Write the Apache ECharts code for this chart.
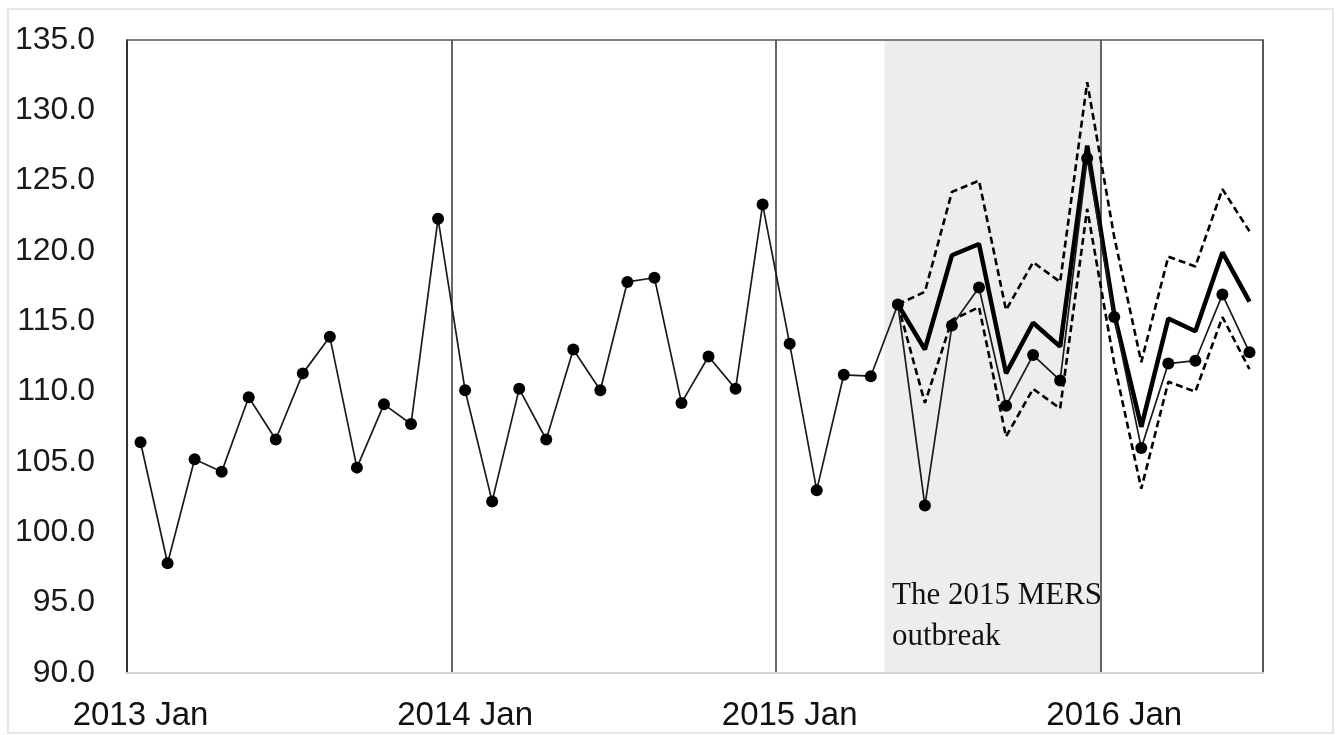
<!DOCTYPE html>
<html>
<head>
<meta charset="utf-8">
<script src="https://cdn.jsdelivr.net/npm/echarts@6/dist/echarts.min.js"></script>
<style>
  html, body { margin: 0; padding: 0; background: #ffffff; }
  #chart { width: 1340px; height: 735px; }
</style>
</head>
<body>
<div id="chart"></div>
<script>
// ---- data ----
const years = [2013, 2014, 2015, 2016];
const monthNames = ['Jan','Feb','Mar','Apr','May','Jun','Jul','Aug','Sep','Oct','Nov','Dec'];
const lastMonthCount2016 = 6;

const observed2013 = [106.4, 97.8, 105.2, 104.3, 109.6, 106.6, 111.3, 113.9, 104.6, 109.1, 107.7, 122.3];
const observed2014 = [110.1, 102.2, 110.2, 106.6, 113.0, 110.1, 117.8, 118.1, 109.2, 112.5, 110.2, 123.3];
const observed2015 = [113.4, 103.0, 111.2, 111.1, 116.2, 101.9, 114.7, 117.4, 109.0, 112.6, 110.8, 126.6];
const observed2016 = [115.3, 106.0, 112.0, 112.2, 116.9, 112.8];

// forecast from 2015 May to 2016 Jun
const forecastStart = '2015 May';
const forecast = [116.2, 113.0, 119.7, 120.5, 111.3, 114.9, 113.2, 127.5, 115.5, 107.5, 115.2, 114.3, 119.9, 116.4];
const upperBound = [116.2, 117.1, 124.2, 125.0, 115.8, 119.2, 117.8, 132.0, 121.0, 112.1, 119.6, 118.9, 124.4, 121.4];
const lowerBound = [116.2, 109.2, 115.1, 116.0, 106.8, 110.2, 108.8, 123.0, 112.0, 103.1, 110.7, 110.0, 115.3, 111.6];

// MERS outbreak period
const mersStart = '2015 May';
const mersEnd = '2015 Dec';
const mersLabel = 'The 2015 MERS\noutbreak';

const yMin = 90, yMax = 135, yStep = 5;

// ---- build ----
const categories = [];
years.forEach(y => {
  const n = (y === 2016) ? lastMonthCount2016 : 12;
  for (let i = 0; i < n; i++) categories.push(y + ' ' + monthNames[i]);
});
const observed = observed2013.concat(observed2014, observed2015, observed2016);
const fIdx = categories.indexOf(forecastStart);
function pad(arr) {
  const out = categories.map(() => null);
  arr.forEach((v, i) => { out[fIdx + i] = v; });
  return out;
}
const mS = categories.indexOf(mersStart), mE = categories.indexOf(mersEnd);

const chart = echarts.init(document.getElementById('chart'), null, { renderer: 'canvas' });
const sans = 'Liberation Sans, Arial, sans-serif';

chart.setOption({
  animation: false,
  backgroundColor: '#ffffff',
  grid: { left: 127, right: 77, top: 40, bottom: 62 },
  xAxis: [{
    type: 'category',
    data: categories,
    boundaryGap: true,
    axisLine: { show: true, lineStyle: { color: '#d4d4d4', width: 2 } },
    axisTick: { show: false },
    axisLabel: {
      interval: 11,
      margin: 26,
      fontSize: 33,
      fontFamily: sans,
      color: '#111'
    },
    splitLine: { show: true, interval: 11, lineStyle: { color: '#333', width: 1.5 } }
  }, {
    type: 'category',
    data: categories,
    position: 'top',
    axisLine: { show: true, lineStyle: { color: '#555', width: 1.5 } },
    axisTick: { show: false },
    axisLabel: { show: false },
    splitLine: { show: false }
  }],
  yAxis: [{
    type: 'value',
    min: yMin, max: yMax, interval: yStep,
    axisLine: { show: true, lineStyle: { color: '#222', width: 1.5 } },
    axisTick: { show: false },
    splitLine: { show: false },
    axisLabel: {
      margin: 32,
      fontSize: 32,
      fontFamily: sans,
      color: '#1a1a1a',
      formatter: v => v.toFixed(1)
    }
  }, {
    type: 'value',
    position: 'right',
    min: yMin, max: yMax, interval: yStep,
    axisLine: { show: true, lineStyle: { color: '#555', width: 1.5 } },
    axisTick: { show: false },
    splitLine: { show: false },
    axisLabel: { show: false }
  }],
  series: [
    {
      name: 'MERS',
      type: 'custom',
      silent: true,
      z: -1,
      data: [[mS, mE, yMin, yMax]],
      encode: { x: [0, 1], y: [2, 3] },
      renderItem: function (params, api) {
        const w = api.size([1, 0])[0];
        const pTop = api.coord([api.value(0), api.value(3)]);
        const pBot = api.coord([api.value(1), api.value(2)]);
        return {
          type: 'rect',
          shape: {
            x: pTop[0] - w / 2,
            y: pTop[1],
            width: pBot[0] - pTop[0] + w,
            height: pBot[1] - pTop[1]
          },
          style: { fill: '#ededed' }
        };
      }
    },
    {
      name: 'Upper',
      type: 'line',
      data: pad(upperBound),
      symbol: 'none',
      lineStyle: { color: '#000', width: 2.6, type: [7, 4] },
      z: 3
    },
    {
      name: 'Lower',
      type: 'line',
      data: pad(lowerBound),
      symbol: 'none',
      lineStyle: { color: '#000', width: 2.6, type: [7, 4] },
      z: 3
    },
    {
      name: 'Forecast',
      type: 'line',
      data: pad(forecast),
      symbol: 'none',
      lineStyle: { color: '#000', width: 4.5 },
      z: 4
    },
    {
      name: 'Observed',
      type: 'line',
      data: observed,
      symbol: 'circle',
      symbolSize: 12,
      showAllSymbol: true,
      lineStyle: { color: '#1a1a1a', width: 1.7 },
      itemStyle: { color: '#000' },
      z: 5
    }
  ],
  graphic: [
    {
      type: 'rect',
      silent: true,
      shape: { x: 8, y: 9, width: 1325, height: 724 },
      style: { fill: 'none', stroke: '#e6e6e6', lineWidth: 2 }
    },
    {
      type: 'text',
      left: 892,
      top: 575,
      z: 10,
      style: {
        text: mersLabel,
        fontSize: 31,
        fontFamily: 'Liberation Serif, Times New Roman, serif',
        lineHeight: 41,
        fill: '#111'
      }
    }
  ]
});
</script>
</body>
</html>
